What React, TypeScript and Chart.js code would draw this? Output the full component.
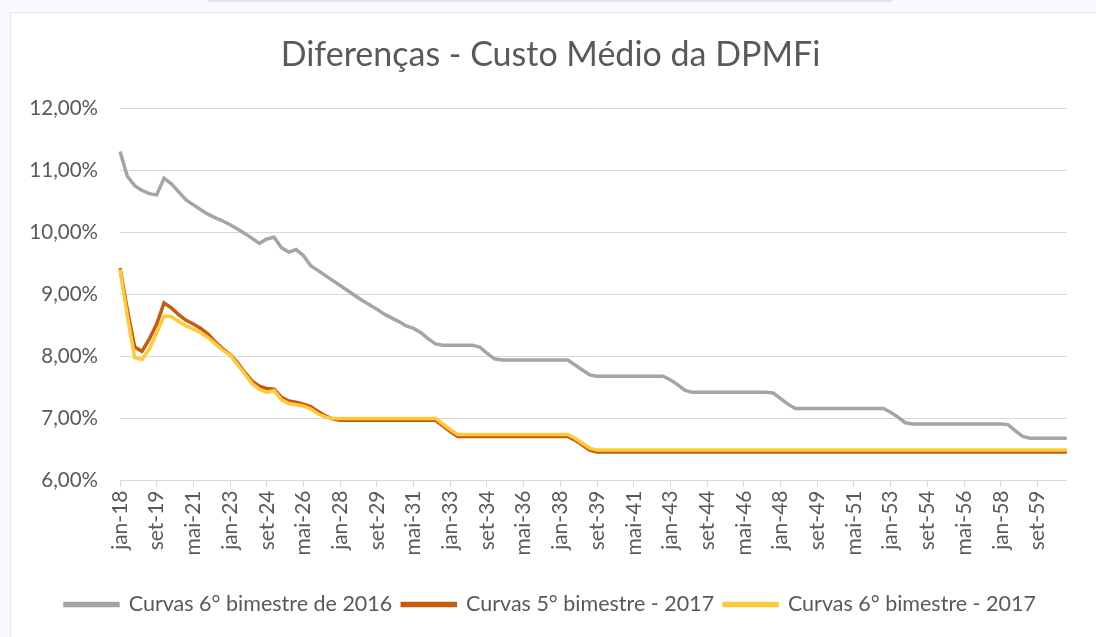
import React, { useEffect, useRef } from "react";
import { Chart, registerables } from "chart.js";

Chart.register(...registerables);

// ---- data ----
const MONTH_NAMES = ["jan", "mai", "set"]; // one point every 4 months
const FIRST_YEAR = 18;
const POINT_COUNT = 130; // jan-18 .. jan-61
const categories: string[] = [];
for (let i = 0; i < POINT_COUNT; i++) {
  categories.push(`${MONTH_NAMES[i % 3]}-${FIRST_YEAR + Math.floor(i / 3)}`);
}
const TICK_EVERY = 5; // a label every 20 months

const titleText = "Diferenças - Custo Médio da DPMFi";
const seriesNames = [
  "Curvas 6° bimestre de 2016",
  "Curvas 5° bimestre - 2017",
  "Curvas 6° bimestre - 2017",
];
const seriesColors = ["#a5a5a5", "#c55a11", "#ffca3a"];

const curvas6bim2016 = [
  11.3, 10.9, 10.75, 10.67, 10.62, 10.6, 10.87, 10.78, 10.65, 10.52,
  10.44, 10.36, 10.29, 10.23, 10.18, 10.12, 10.05, 9.98, 9.9, 9.82,
  9.89, 9.92, 9.75, 9.68, 9.72, 9.62, 9.46, 9.38, 9.3, 9.22,
  9.14, 9.06, 8.98, 8.9, 8.83, 8.76, 8.68, 8.62, 8.56, 8.49,
  8.45, 8.38, 8.28, 8.2, 8.18, 8.18, 8.18, 8.18, 8.18, 8.15,
  8.05, 7.96, 7.94, 7.94, 7.94, 7.94, 7.94, 7.94, 7.94, 7.94,
  7.94, 7.94, 7.86, 7.78, 7.7, 7.68, 7.68, 7.68, 7.68, 7.68,
  7.68, 7.68, 7.68, 7.68, 7.68, 7.62, 7.54, 7.45, 7.42, 7.42,
  7.42, 7.42, 7.42, 7.42, 7.42, 7.42, 7.42, 7.42, 7.42, 7.41,
  7.32, 7.23, 7.16, 7.16, 7.16, 7.16, 7.16, 7.16, 7.16, 7.16,
  7.16, 7.16, 7.16, 7.16, 7.16, 7.1, 7.02, 6.93, 6.91, 6.91,
  6.91, 6.91, 6.91, 6.91, 6.91, 6.91, 6.91, 6.91, 6.91, 6.91,
  6.91, 6.9, 6.8, 6.71, 6.68, 6.68, 6.68, 6.68, 6.68, 6.68,
];

const curvas5bim2017 = [
  9.42, 8.75, 8.15, 8.08, 8.28, 8.52, 8.86, 8.78, 8.67, 8.58,
  8.52, 8.45, 8.36, 8.23, 8.12, 8.03, 7.9, 7.74, 7.6, 7.52,
  7.48, 7.47, 7.34, 7.28, 7.26, 7.23, 7.19, 7.11, 7.04, 6.99,
  6.97, 6.97, 6.97, 6.97, 6.97, 6.97, 6.97, 6.97, 6.97, 6.97,
  6.97, 6.97, 6.97, 6.97, 6.88, 6.79, 6.71, 6.71, 6.71, 6.71,
  6.71, 6.71, 6.71, 6.71, 6.71, 6.71, 6.71, 6.71, 6.71, 6.71,
  6.71, 6.71, 6.65, 6.57, 6.49, 6.46, 6.46, 6.46, 6.46, 6.46,
  6.46, 6.46, 6.46, 6.46, 6.46, 6.46, 6.46, 6.46, 6.46, 6.46,
  6.46, 6.46, 6.46, 6.46, 6.46, 6.46, 6.46, 6.46, 6.46, 6.46,
  6.46, 6.46, 6.46, 6.46, 6.46, 6.46, 6.46, 6.46, 6.46, 6.46,
  6.46, 6.46, 6.46, 6.46, 6.46, 6.46, 6.46, 6.46, 6.46, 6.46,
  6.46, 6.46, 6.46, 6.46, 6.46, 6.46, 6.46, 6.46, 6.46, 6.46,
  6.46, 6.46, 6.46, 6.46, 6.46, 6.46, 6.46, 6.46, 6.46, 6.46,
];

const curvas6bim2017 = [
  9.4, 8.65, 7.98, 7.95, 8.12, 8.38, 8.65, 8.64, 8.56, 8.49,
  8.44, 8.38, 8.3, 8.2, 8.1, 8.02, 7.87, 7.72, 7.56, 7.47,
  7.42, 7.45, 7.3, 7.24, 7.22, 7.2, 7.15, 7.07, 7.02, 7.0,
  7.0, 7.0, 7.0, 7.0, 7.0, 7.0, 7.0, 7.0, 7.0, 7.0,
  7.0, 7.0, 7.0, 7.0, 6.91, 6.82, 6.74, 6.74, 6.74, 6.74,
  6.74, 6.74, 6.74, 6.74, 6.74, 6.74, 6.74, 6.74, 6.74, 6.74,
  6.74, 6.74, 6.68, 6.6, 6.52, 6.49, 6.49, 6.49, 6.49, 6.49,
  6.49, 6.49, 6.49, 6.49, 6.49, 6.49, 6.49, 6.49, 6.49, 6.49,
  6.49, 6.49, 6.49, 6.49, 6.49, 6.49, 6.49, 6.49, 6.49, 6.49,
  6.49, 6.49, 6.49, 6.49, 6.49, 6.49, 6.49, 6.49, 6.49, 6.49,
  6.49, 6.49, 6.49, 6.49, 6.49, 6.49, 6.49, 6.49, 6.49, 6.49,
  6.49, 6.49, 6.49, 6.49, 6.49, 6.49, 6.49, 6.49, 6.49, 6.49,
  6.49, 6.49, 6.49, 6.49, 6.49, 6.49, 6.49, 6.49, 6.49, 6.49,
];

const Y_MIN = 6;
const Y_MAX = 12;
const Y_STEP = 1;

const FONT = "Lato, 'Open Sans', sans-serif";
const TEXT_COLOR = "#595959";
const GRID_COLOR = "#d9d9d9";

export default function App() {
  const canvasRef = useRef<HTMLCanvasElement | null>(null);

  useEffect(() => {
    document.body.style.margin = "0";
    const canvas = canvasRef.current;
    if (!canvas) return;
    const seriesData = [curvas6bim2016, curvas5bim2017, curvas6bim2017];
    const chart = new Chart(canvas, {
      type: "line",
      data: {
        labels: categories,
        datasets: seriesData.map((d, k) => ({
          label: seriesNames[k],
          data: d,
          borderColor: seriesColors[k],
          backgroundColor: seriesColors[k],
          borderWidth: 3.5,
          pointRadius: 0,
          tension: 0,
          fill: false,
          order: 2 - k,
        })),
      },
      options: {
        animation: false,
        responsive: false,
        maintainAspectRatio: false,
        layout: { padding: { left: 28, right: 23, top: 10, bottom: 11.75 } },
        plugins: {
          title: {
            display: true,
            text: titleText,
            color: TEXT_COLOR,
            font: { family: FONT, size: 34, weight: "normal" },
            padding: { top: 24.5, bottom: 32.7 },
          },
          legend: {
            display: true,
            position: "bottom",
            labels: {
              color: TEXT_COLOR,
              font: { family: FONT, size: 21.5 },
              boxWidth: 53,
              boxHeight: 2,
              padding: 10,
              sort: (a: any, b: any) => a.datasetIndex - b.datasetIndex,
            },
          },
          tooltip: { enabled: false },
        },
        scales: {
          x: {
            type: "category",
            offset: false,
            afterFit: (s: any) => {
              s.height = 103.25;
            },
            grid: {
              drawOnChartArea: false,
              drawTicks: true,
              tickLength: 6,
              color: (ctx: any) =>
                ctx.index % TICK_EVERY === 0 ? GRID_COLOR : "rgba(0,0,0,0)",
            },
            border: { display: false },
            ticks: {
              autoSkip: false,
              maxRotation: 90,
              minRotation: 90,
              padding: 4,
              color: TEXT_COLOR,
              font: { family: FONT, size: 21 },
              callback: (_v: any, idx: number) =>
                idx % TICK_EVERY === 0 ? categories[idx] : "",
            },
          },
          y: {
            min: Y_MIN,
            max: Y_MAX,
            afterFit: (s: any) => {
              s.width = 92;
            },
            grid: { color: GRID_COLOR, lineWidth: 1, drawTicks: false },
            border: { display: false },
            ticks: {
              stepSize: Y_STEP,
              padding: 22,
              color: TEXT_COLOR,
              font: { family: FONT, size: 20.5 },
              callback: (v: any) =>
                Number(v).toFixed(2).replace(".", ",") + "%",
            },
          },
        },
      },
    });
    return () => chart.destroy();
  }, []);

  return (
    <div
      style={{
        position: "relative",
        width: 1096,
        height: 637,
        overflow: "hidden",
        background: "#f8f9fc",
      }}
    >
      <div
        style={{
          position: "absolute",
          left: 208,
          top: 0,
          width: 684,
          height: 2,
          background: "#e3e3e3",
        }}
      />
      <div
        style={{
          position: "absolute",
          left: 10,
          top: 12,
          width: 1090,
          height: 640,
          background: "#ffffff",
          border: "1px solid #e6e6e6",
        }}
      />
      <canvas
        ref={canvasRef}
        width={1096}
        height={637}
        style={{ position: "absolute", left: 0, top: 0, width: 1096, height: 637 }}
      />
    </div>
  );
}
